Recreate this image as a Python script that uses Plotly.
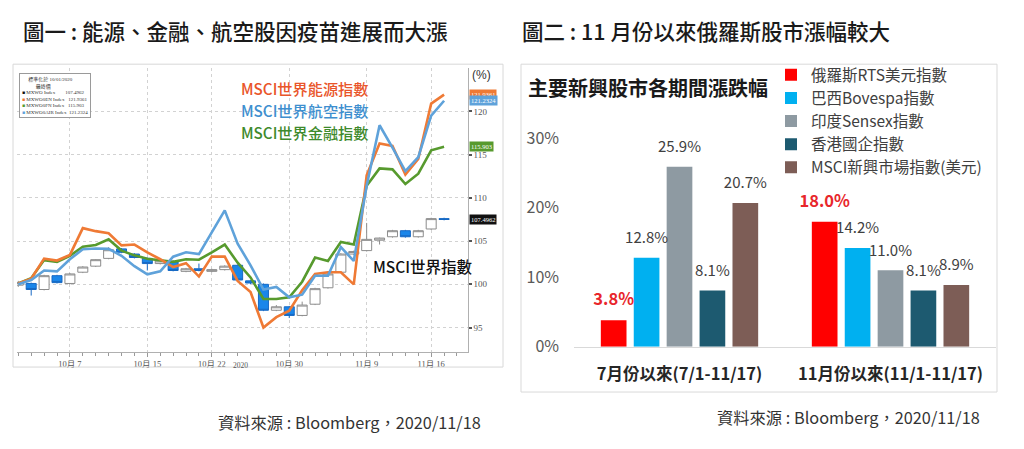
import plotly.graph_objects as go

# page body has an 8px margin: figure is placed at (8, 8) in the window;
# the photographed page is also slightly compressed vertically, so y positions are stretched by K
OFF = 8
K = 1 / 0.975
FW, FH = 1024 - 2 * OFF, 449 - 2 * OFF
CJK = "Noto Sans CJK TC"
SERIF = "Liberation Serif, Noto Sans CJK TC"

# ---------------- 圖一 data (Bloomberg) ----------------
dates = ["2020-10-01", "2020-10-02", "2020-10-05", "2020-10-06", "2020-10-07", "2020-10-08",
         "2020-10-09", "2020-10-12", "2020-10-13", "2020-10-14", "2020-10-15", "2020-10-16",
         "2020-10-19", "2020-10-20", "2020-10-21", "2020-10-22", "2020-10-23", "2020-10-26",
         "2020-10-27", "2020-10-28", "2020-10-29", "2020-10-30", "2020-11-02", "2020-11-03",
         "2020-11-04", "2020-11-05", "2020-11-06", "2020-11-09", "2020-11-10", "2020-11-11",
         "2020-11-12", "2020-11-13", "2020-11-16", "2020-11-17"]
axis_label_dates = ["2020-10-07", "2020-10-15", "2020-10-22", "2020-10-30", "2020-11-09", "2020-11-16"]
axis_labels = ["10月 7", "10月 15", "10月 22", "10月 30", "11月 9", "11月 16"]

energy = [100.1, 100.66, 102.97, 102.75, 103.4, 106.5, 106.15, 105.9, 104.5, 104.6, 103.7, 102.9,
          102.0, 102.45, 100.9, 103.2, 103.2, 100.4, 99.1, 95.0, 96.2, 96.95, 99.3, 101.2,
          101.4, 101.4, 100.0, 112.6, 116.3, 116.0, 112.7, 114.5, 120.9, 121.94]
airline = [100.0, 100.5, 101.6, 101.5, 102.9, 104.05, 104.15, 104.1, 103.3, 102.1, 101.15, 101.5,
           103.2, 103.7, 103.5, 106.0, 108.55, 104.7, 102.2, 99.4, 99.7, 98.5, 98.8, 101.0,
           101.0, 104.3, 102.7, 111.4, 118.4, 115.8, 113.1, 114.7, 119.5, 121.23]
financial = [100.1, 100.7, 102.8, 102.6, 103.3, 104.35, 104.55, 105.2, 103.9, 103.35, 102.95, 102.75,
             102.6, 102.9, 102.85, 103.7, 104.6, 102.5, 100.8, 98.3, 98.3, 98.5, 100.3, 103.1,
             102.7, 104.9, 104.6, 111.4, 113.4, 113.3, 111.6, 112.8, 115.5, 115.9]
world_open = [99.9, 100.1, 99.4, 101.0, 100.1, 101.4, 102.1, 103.0, 104.1, 103.5, 103.0, 102.4,
              102.6, 101.5, 101.8, 101.5, 101.7, 102.2, 100.4, 100.0, 97.0, 97.4, 96.4, 97.7,
              99.6, 101.4, 103.5, 103.9, 105.1, 105.5, 106.2, 105.5, 106.4, 107.6]
world_high = [100.4, 100.2, 101.1, 101.1, 101.3, 102.1, 102.9, 104.3, 104.2, 103.6, 103.1, 102.8,
              102.8, 101.9, 102.4, 101.8, 102.2, 102.3, 100.5, 100.1, 97.6, 97.5, 98.0, 99.6,
              101.3, 103.6, 103.9, 107.1, 105.4, 106.3, 106.3, 106.3, 107.7, 107.7]
world_low = [99.7, 98.7, 99.3, 100.1, 100.0, 101.3, 102.0, 102.9, 103.6, 103.0, 101.6, 102.3,
             101.5, 101.4, 101.5, 101.4, 101.6, 100.4, 100.0, 96.9, 96.9, 96.1, 96.3, 97.6,
             99.5, 101.3, 103.4, 103.8, 104.6, 105.4, 105.4, 105.4, 106.3, 107.4]
world_close = [100.2, 99.4, 101.0, 100.2, 101.2, 102.0, 102.85, 104.0, 103.7, 103.1, 102.4, 102.7,
               101.6, 101.8, 101.6, 101.7, 102.1, 100.5, 100.15, 97.0, 97.4, 96.4, 97.6, 99.5,
               101.2, 103.5, 103.8, 105.2, 105.35, 106.2, 105.5, 106.2, 107.6, 107.5]
last_values = {"MXWO": "107.4962", "MXWO0EN": "121.9361", "MXWO0FN": "115.903", "MXWO0AIR": "121.2324"}
y_ticks = [95, 100, 105, 110, 115, 120]

# ---------------- 圖二 data ----------------
periods = ["7月份以來(7/1-11/17)", "11月份以來(11/1-11/17)"]
series_names = ["俄羅斯RTS美元指數", "巴西Bovespa指數", "印度Sensex指數", "香港國企指數", "MSCI新興市場指數(美元)"]
russia = [3.8, 18.0]
brazil = [12.8, 14.2]
india = [25.9, 11.0]
hk_china = [8.1, 8.1]
msci_em = [20.7, 8.9]
pct_ticks = [0, 10, 20, 30]

bar_colors = ["#FF0000", "#00B0F0", "#8E9AA2", "#1D5A70", "#7D5D56"]


def px(x):
    return (x - OFF) / FW


def py(y):
    return 1 - (y * K - OFF) / FH


idx = list(range(len(dates)))
fig = go.Figure()

# ---- 圖一 traces ----
fig.add_trace(go.Candlestick(
    x=idx, open=world_open, high=world_high, low=world_low, close=world_close,
    increasing=dict(line=dict(color="#8c8c8c", width=1), fillcolor="#ffffff"),
    decreasing=dict(line=dict(color="#1769c4", width=1), fillcolor="#1a86ea"),
    whiskerwidth=0, showlegend=False, hoverinfo="skip", xaxis="x", yaxis="y"))

line_specs = [(financial, "#579a2e"), (energy, "#ef7a35"), (airline, "#5fa2da")]
for vals, col in line_specs:
    fig.add_trace(go.Scatter(x=idx, y=vals, mode="lines", line=dict(color=col, width=2.6),
                             showlegend=False, hoverinfo="skip", offsetgroup="lines",
                             xaxis="x", yaxis="y"))

# ---- 圖二 traces ----
series_vals = [russia, brazil, india, hk_china, msci_em]
for i, (name, vals) in enumerate(zip(series_names, series_vals)):
    fig.add_trace(go.Bar(x=periods, y=vals, name=name, marker=dict(color=bar_colors[i], line=dict(width=0)),
                         offsetgroup=f"g{i}", xaxis="x3", yaxis="y3", hoverinfo="skip"))
for i, vals in enumerate(series_vals):
    is_red = i == 0
    fig.add_trace(go.Scatter(
        x=periods, y=vals, mode="markers+text", text=[f"{v:.1f}%" for v in vals],
        textposition="top center", marker=dict(size=16, opacity=0),
        textfont=dict(family=CJK, size=16.5 if is_red else 15,
                      color="#E8262B" if is_red else "#404040",
                      weight=600 if is_red else "normal"),
        offsetgroup=f"g{i}", showlegend=False, hoverinfo="skip", cliponaxis=False,
        xaxis="x3", yaxis="y3"))

# ---- annotations ----
ann = []
ann.append(dict(text="圖一 : 能源、金融、航空股因疫苗進展而大漲", x=px(21), y=py(30), xanchor="left",
                yanchor="middle", font=dict(family=CJK, size=21.5, color="#1a1a1a", weight=500)))
ann.append(dict(text="圖二 : 11 月份以來俄羅斯股市漲幅較大", x=px(520), y=py(30), xanchor="left",
                yanchor="middle", font=dict(family=CJK, size=21.5, color="#1a1a1a", weight=500)))
ann.append(dict(text="主要新興股市各期間漲跌幅", x=px(526), y=py(87), xanchor="left", yanchor="middle",
                font=dict(family=CJK, size=20, color="#1a1a1a", weight="bold")))
ann.append(dict(text="資料來源 : Bloomberg，2020/11/18", x=px(216), y=py(422), xanchor="left",
                yanchor="middle", font=dict(family=CJK, size=16.3, color="#333333")))
ann.append(dict(text="資料來源 : Bloomberg，2020/11/18", x=px(715), y=py(417), xanchor="left",
                yanchor="middle", font=dict(family=CJK, size=16.3, color="#333333")))

# chart text labels in 圖一
for txt, yy, col in [("MSCI世界能源指數", 88, "#E9552A"), ("MSCI世界航空指數", 110, "#3E8FCF"),
                     ("MSCI世界金融指數", 132, "#3E8A2C")]:
    ann.append(dict(text=txt, x=px(239), y=py(yy), xanchor="left", yanchor="middle",
                    font=dict(family=CJK, size=15.2, color=col, weight=500)))
ann.append(dict(text="MSCI世界指數", x=px(371), y=py(266), xanchor="left", yanchor="middle",
                font=dict(family=CJK, size=15.5, color="#111111", weight=500)))
ann.append(dict(text="(%)", x=px(481), y=py(75), xanchor="center", yanchor="middle",
                font=dict(family="Liberation Sans", size=12, color="#333333")))
ann.append(dict(text="2020", x=px(240), y=py(365), xanchor="center", yanchor="middle",
                font=dict(family=SERIF, size=7.5, color="#555555")))

# last value boxes
for key, val, col in [("MXWO0EN", energy[-1], "#ef7a35"), ("MXWO0AIR", airline[-1], "#5fa2da"),
                      ("MXWO0FN", financial[-1], "#579a2e"), ("MXWO", world_close[-1], "#111111")]:
    ann.append(dict(text=last_values[key], x=px(469), xref="paper", y=val, yref="y", xanchor="left",
                    yanchor="middle", bgcolor=col, borderpad=1, showarrow=False,
                    font=dict(family=SERIF, size=6.5, color="#ffffff")))

# tiny bloomberg legend
legend_txt = ("&nbsp;&nbsp;&nbsp;&nbsp;&nbsp;標準化於 10/01/2020<br>&nbsp;&nbsp;&nbsp;&nbsp;&nbsp;&nbsp;&nbsp;&nbsp;&nbsp;&nbsp;&nbsp;最終價<br>"
              "<span style='color:#111'>■</span> MXWO Index&nbsp;&nbsp;&nbsp;&nbsp;&nbsp;&nbsp;&nbsp;&nbsp;107.4962<br>"
              "<span style='color:#ef7a35'>■</span> MXWO0EN Index&nbsp;&nbsp;&nbsp;121.9361<br>"
              "<span style='color:#579a2e'>■</span> MXWO0FN Index&nbsp;&nbsp;&nbsp;115.903<br>"
              "<span style='color:#5fa2da'>■</span> MXWO0AIR Index&nbsp;&nbsp;121.2324")
ann.append(dict(text=legend_txt, x=px(19), y=py(73), xanchor="left", yanchor="top", align="left",
                bordercolor="#9a9a9a", borderwidth=1, borderpad=2, bgcolor="#ffffff",
                font=dict(family=SERIF, size=5, color="#333333")))

for a in ann:
    a.setdefault("xref", "paper")
    a.setdefault("yref", "paper")
    a.setdefault("showarrow", False)

shapes = [
    dict(type="rect", xref="paper", yref="paper", x0=px(13), x1=px(503), y0=py(367), y1=py(64),
         line=dict(color="#d8d8d8", width=1)),
    dict(type="rect", xref="paper", yref="paper", x0=px(521), x1=px(997), y0=py(392), y1=py(64),
         line=dict(color="#d9d9d9", width=1)),
]

fig.update_layout(
    width=FW, height=FH, margin=dict(l=0, r=0, t=0, b=0),
    paper_bgcolor="#ffffff", plot_bgcolor="rgba(0,0,0,0)",
    font=dict(family=CJK, color="#333333"),
    annotations=ann, shapes=shapes,
    barmode="group", bargap=0.22, bargroupgap=0.22,
    scattermode="group", scattergap=0.22,
    boxgap=0.1, boxgroupgap=0.14,
    showlegend=True,
    legend=dict(x=px(771), y=py(58), xanchor="left", yanchor="top", bgcolor="rgba(0,0,0,0)",
                font=dict(family=CJK, size=15.5, color="#404040"), traceorder="normal"),
    xaxis=dict(domain=[px(17), px(467.7)], range=[-0.1, 34.83], anchor="y",
               tickmode="array", tickvals=[dates.index(d) for d in axis_label_dates], ticktext=axis_labels,
               ticks="outside", ticklen=4, tickcolor="#999999",
               showgrid=True, gridcolor="#d2d2d2", griddash="dot", gridwidth=1,
               showline=True, linecolor="#b0b0b0", zeroline=False,
               minor=dict(dtick=1, tick0=0, ticks="outside", ticklen=3, tickcolor="#999999", showgrid=False),
               tickfont=dict(family=SERIF, size=8.5, color="#555555"),
               rangeslider=dict(visible=False), fixedrange=True),
    yaxis=dict(domain=[py(351.7), py(68)], range=[92.2, 125], side="right", anchor="x",
               tickmode="array", tickvals=y_ticks, ticks="outside", ticklen=3, tickwidth=1.5,
               tickcolor="#555555", showline=True, linecolor="#b0b0b0",
               showgrid=True, gridcolor="#d2d2d2", griddash="dot", zeroline=False,
               tickfont=dict(family=SERIF, size=9, color="#555555"), fixedrange=True),
    xaxis3=dict(domain=[px(574), px(996)], anchor="y3", type="category",
                showline=True, linecolor="#d9d9d9", linewidth=1, ticks="", showgrid=False,
                ticklabelstandoff=12,
                tickfont=dict(family=CJK, size=16.5, color="#262626", weight="bold"), fixedrange=True),
    yaxis3=dict(domain=[py(346.7), py(124.3)], anchor="x3", range=[0, 32],
                tickmode="array", tickvals=pct_ticks, ticktext=[f"{v}%" for v in pct_ticks],
                showgrid=False, zeroline=False, showline=False, ticks="", ticklabelstandoff=14,
                tickfont=dict(family=CJK, size=16, color="#595959"), fixedrange=True),
)

fig.write_html("out.html")
